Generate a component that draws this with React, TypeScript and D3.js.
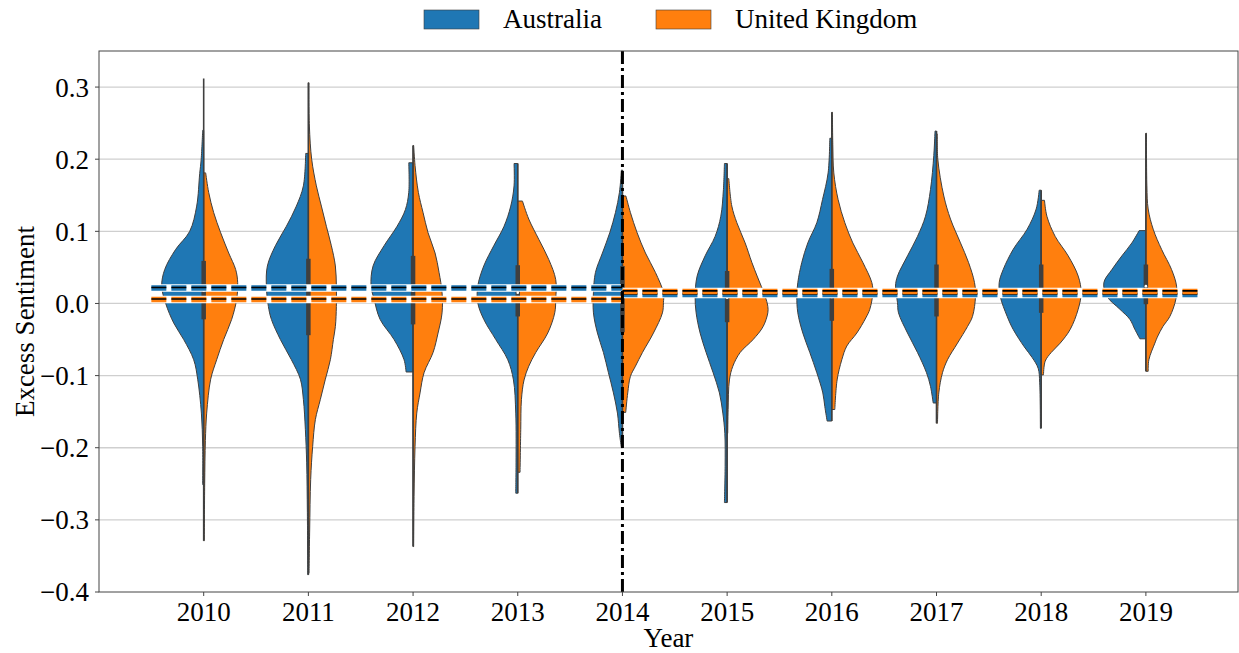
import React from "react";
import * as d3 from "d3";

type P = [number, number];

const years = ["2010", "2011", "2012", "2013", "2014", "2015", "2016", "2017", "2018", "2019"];
const seriesNames = ["Australia", "United Kingdom"];
const seriesColors = ["#1f77b4", "#ff7f0e"];

// [value, density] pairs, top to bottom (density in arbitrary units, max ~42)
const australiaDensity: P[][] = [
  [[0.24, 1], [0.2, 2.5], [0.18, 4], [0.135, 7], [0.1, 14], [0.075, 28], [0.047, 39], [0.024, 42], [0.0, 38], [-0.027, 30], [-0.05, 20], [-0.078, 10], [-0.105, 6], [-0.152, 2.3], [-0.198, 1], [-0.251, 1]],
  [[0.208, 2.7], [0.163, 5], [0.135, 12], [0.107, 22], [0.08, 33], [0.052, 41], [0.024, 42], [-0.004, 40], [-0.022, 37], [-0.05, 28], [-0.078, 17], [-0.105, 8], [-0.133, 5], [-0.175, 3], [-0.221, 1.7], [-0.29, 1], [-0.376, 0.6]],
  [[0.195, 4.3], [0.154, 4.3], [0.13, 7.7], [0.107, 16], [0.08, 29], [0.052, 40], [0.024, 42], [0.006, 39], [-0.022, 33], [-0.05, 19], [-0.078, 9], [-0.095, 7]],
  [[0.194, 3.7], [0.163, 3.7], [0.135, 7], [0.107, 13.7], [0.08, 24], [0.052, 34], [0.024, 40], [0.001, 40], [-0.022, 34], [-0.05, 22], [-0.078, 10], [-0.106, 4.3], [-0.152, 2], [-0.221, 1.7], [-0.263, 2]],
  [[0.185, 1], [0.154, 3], [0.126, 7], [0.098, 12.7], [0.07, 20], [0.043, 27], [0.015, 29], [-0.013, 29], [-0.041, 25], [-0.068, 19], [-0.096, 14], [-0.124, 9], [-0.152, 5], [-0.18, 3], [-0.2, 1]],
  [[0.194, 2.7], [0.158, 3.7], [0.121, 6.3], [0.093, 12], [0.066, 22], [0.038, 30], [0.01, 32], [-0.013, 31], [-0.041, 27], [-0.068, 21], [-0.096, 14], [-0.124, 7.7], [-0.152, 4.3], [-0.18, 2.3], [-0.226, 2], [-0.276, 2.7]],
  [[0.229, 2], [0.181, 3.7], [0.144, 9.3], [0.112, 15], [0.084, 24], [0.057, 30], [0.029, 34], [0.01, 35], [-0.013, 34], [-0.041, 29], [-0.068, 22], [-0.096, 15], [-0.124, 9], [-0.143, 7], [-0.163, 4.7]],
  [[0.239, 1.5], [0.205, 2.7], [0.158, 6], [0.121, 11], [0.093, 19], [0.066, 29], [0.038, 39], [0.024, 41], [0.001, 39], [-0.013, 38], [-0.041, 29], [-0.068, 19], [-0.096, 10], [-0.115, 6], [-0.138, 3.3]],
  [[0.157, 2], [0.131, 5], [0.103, 14], [0.075, 28], [0.047, 38], [0.029, 42], [0.01, 41], [-0.018, 34], [-0.036, 28], [-0.06, 17], [-0.075, 9], [-0.09, 3], [-0.11, 1.5], [-0.173, 0.8]],
  [[0.101, 6.7], [0.084, 14], [0.066, 24], [0.047, 34], [0.029, 42], [0.01, 39], [-0.008, 26], [-0.022, 16], [-0.036, 11], [-0.049, 6]],
];

const ukDensity: P[][] = [
  [[0.181, 2], [0.154, 5], [0.126, 10], [0.098, 17], [0.07, 25], [0.047, 32], [0.029, 34], [0.006, 33], [-0.022, 28], [-0.05, 20], [-0.078, 13], [-0.105, 7], [-0.152, 3], [-0.19, 1.7], [-0.25, 1], [-0.329, 0.6]],
  [[0.306, 0.6], [0.246, 1], [0.2, 3.3], [0.163, 8], [0.135, 13], [0.107, 18], [0.08, 23], [0.052, 27], [0.024, 28], [-0.004, 28], [-0.032, 27], [-0.05, 25], [-0.078, 22], [-0.105, 17], [-0.133, 12], [-0.161, 7], [-0.198, 4.3], [-0.244, 2.3], [-0.314, 1.3], [-0.374, 0.6]],
  [[0.219, 0.6], [0.191, 2], [0.154, 5.3], [0.126, 10], [0.098, 15], [0.07, 22], [0.043, 26], [0.015, 29], [-0.013, 29], [-0.041, 25], [-0.068, 20], [-0.096, 11], [-0.124, 7], [-0.152, 3.7], [-0.198, 2], [-0.268, 1], [-0.337, 0.6]],
  [[0.142, 4.7], [0.117, 11], [0.089, 21], [0.061, 31], [0.033, 38], [0.006, 38], [-0.013, 37], [-0.041, 30], [-0.068, 18], [-0.087, 11], [-0.106, 6.3], [-0.133, 3.7], [-0.175, 3], [-0.234, 2.3]],
  [[0.149, 3.5], [0.126, 8], [0.098, 14.7], [0.07, 23], [0.043, 33], [0.015, 41], [0.001, 41], [-0.013, 40], [-0.041, 31], [-0.068, 20], [-0.087, 13], [-0.101, 8], [-0.124, 5.3], [-0.151, 3.3]],
  [[0.173, 1.7], [0.135, 4.7], [0.112, 9.7], [0.084, 18], [0.057, 24.7], [0.038, 30], [0.01, 38], [-0.004, 40.7], [-0.013, 40.7], [-0.032, 36], [-0.05, 26], [-0.068, 13], [-0.087, 5.7], [-0.106, 2.3], [-0.147, 1], [-0.18, 0.6]],
  [[0.265, 0.6], [0.22, 1], [0.181, 2], [0.144, 6.3], [0.112, 13], [0.084, 21], [0.057, 31], [0.029, 40], [0.015, 41], [-0.008, 38], [-0.02, 34], [-0.041, 25], [-0.059, 15], [-0.078, 10], [-0.106, 5.3], [-0.147, 3]],
  [[0.235, 0.8], [0.2, 1.3], [0.149, 7.3], [0.117, 14], [0.084, 24], [0.057, 32], [0.029, 38], [0.01, 39], [-0.018, 36], [-0.032, 31], [-0.055, 21], [-0.078, 11], [-0.096, 6], [-0.124, 2.3], [-0.166, 1]],
  [[0.143, 3.3], [0.121, 5.7], [0.093, 14], [0.066, 27], [0.038, 37], [0.015, 40], [-0.008, 37], [-0.036, 29], [-0.055, 19], [-0.068, 10], [-0.08, 4], [-0.099, 2.3]],
  [[0.236, 0.6], [0.163, 1], [0.131, 2.3], [0.103, 7.3], [0.075, 15.7], [0.047, 25.7], [0.024, 30.7], [0.006, 30], [-0.018, 24], [-0.032, 17], [-0.045, 12], [-0.055, 9], [-0.078, 3], [-0.094, 2.3]],
];

const boxUpper = [0.059, 0.062, 0.066, 0.053, 0.052, 0.045, 0.048, 0.054, 0.054, 0.054];
const boxLower = [-0.022, -0.044, -0.029, -0.018, -0.04, -0.026, -0.024, -0.018, -0.013, -0.001];
const medians = [0.018, 0.019, 0.018, 0.015, 0.013, 0.008, 0.009, 0.019, 0.019, 0.024];
const whiskerHigh = [0.312, 0.306, 0.219, 0.194, 0.185, 0.194, 0.265, 0.239, 0.157, 0.236];
const whiskerLow = [-0.329, -0.376, -0.337, -0.263, -0.2, -0.276, -0.163, -0.166, -0.173, -0.094];

const yTicks = [-0.4, -0.3, -0.2, -0.1, 0.0, 0.1, 0.2, 0.3];
const periodStart = [-0.5, 4];
const periodEnd = [4, 9.5];
const australiaMean = [0.0215, 0.0125];
const ukMean = [0.0055, 0.0167];
const breakIndex = 4;

const FONT = "'Liberation Serif', 'Times New Roman', serif";

export default function App() {
  const W = 1239, H = 653;
  const left = 99, right = 1238, top = 51, bottom = 592;
  const x = d3.scaleLinear().domain([-1.0, 9.88]).range([left, right]);
  const y = d3.scaleLinear().domain([-0.4, 0.35]).range([bottom, top]);
  const step = x(1) - x(0);
  const dens = d3.scaleLinear().domain([0, 42]).range([0, (step * 42) / 104.7]);

  const half = (cx: number, sign: number, pts: P[]) =>
    d3
      .area<P>()
      .y((d) => y(d[0]))
      .x0(cx)
      .x1((d) => cx + sign * dens(d[1]))
      .curve(d3.curveCatmullRom.alpha(0.5))(pts) || "";

  const fmt = (v: number) => (v < 0 ? "\u2212" : "") + Math.abs(v).toFixed(1);

  const underlay = (vals: number[], key: string) =>
    vals.map((v, i) => (
      <line key={key + "w" + i} x1={x(periodStart[i])} x2={x(periodEnd[i])} y1={y(v)} y2={y(v)} stroke="white" strokeWidth={7.5} />
    ));

  const meanLines = (vals: number[], color: string, key: string) =>
    vals.map((v, i) => {
      const x1 = x(periodStart[i]);
      const x2 = x(periodEnd[i]);
      const yy = y(v);
      return (
        <g key={key + i}>
          <line x1={x1} x2={x2} y1={yy} y2={yy} stroke={color} strokeWidth={5.5} strokeDasharray="15 5" />
          <line x1={x1} x2={x2} y1={yy - 0.5} y2={yy - 0.5} stroke="black" strokeWidth={1.6} strokeDasharray="15 5" />
        </g>
      );
    });

  return (
    <svg width={W} height={H} style={{ position: "absolute", left: 0, top: 0, background: "white" }} fontFamily={FONT}>
      <rect x={0} y={0} width={W} height={H} fill="white" />
      {/* grid */}
      {yTicks.slice(1).map((t) => (
        <line key={"g" + t} x1={left} x2={right} y1={y(t)} y2={y(t)} stroke="#cfcfcf" strokeWidth={1.3} />
      ))}
      {/* violins */}
      {years.map((yr, i) => {
        const cx = x(i);
        return (
          <g key={"v" + yr}>
            <path d={half(cx, -1, australiaDensity[i])} fill={seriesColors[0]} stroke="#3f3f3f" strokeWidth={1} />
            <path d={half(cx, 1, ukDensity[i])} fill={seriesColors[1]} stroke="#3f3f3f" strokeWidth={1} />
            <line x1={cx} x2={cx} y1={y(whiskerHigh[i])} y2={y(whiskerLow[i])} stroke="#3f3f3f" strokeWidth={1.6} />
            <line x1={cx} x2={cx} y1={y(boxUpper[i])} y2={y(boxLower[i])} stroke="#3f3f3f" strokeWidth={4.5} />
            <circle cx={cx} cy={y(medians[i])} r={1.3} fill="white" />
          </g>
        );
      })}
      {/* mean lines */}
      {underlay(australiaMean, "a")}
      {underlay(ukMean, "u")}
      {meanLines(australiaMean, seriesColors[0], "a")}
      {meanLines(ukMean, seriesColors[1], "u")}
      {/* break line */}
      <line x1={x(breakIndex)} x2={x(breakIndex)} y1={top} y2={bottom} stroke="black" strokeWidth={3} strokeDasharray="13 4 3 4" />
      {/* frame */}
      <rect x={left} y={top} width={right - left} height={bottom - top} fill="none" stroke="#444" strokeWidth={1} />
      {/* y ticks */}
      {yTicks.map((t) => (
        <g key={"yt" + t}>
          <line x1={left - 4} x2={left} y1={y(t)} y2={y(t)} stroke="#444" strokeWidth={1} />
          <text x={left - 10} y={y(t)} dy="0.35em" textAnchor="end" fontSize={27}>
            {fmt(t)}
          </text>
        </g>
      ))}
      {/* x ticks */}
      {years.map((yr, i) => (
        <g key={"xt" + yr}>
          <line x1={x(i)} x2={x(i)} y1={bottom} y2={bottom + 4} stroke="#444" strokeWidth={1} />
          <text x={x(i)} y={621} textAnchor="middle" fontSize={27}>
            {yr}
          </text>
        </g>
      ))}
      <text x={(left + right) / 2} y={647} textAnchor="middle" fontSize={27}>
        Year
      </text>
      <text transform={`translate(34, ${(top + bottom) / 2}) rotate(-90)`} textAnchor="middle" fontSize={27}>
        Excess Sentiment
      </text>
      {/* legend */}
      {seriesNames.map((n, i) => {
        const lx = i === 0 ? 424 : 656;
        return (
          <g key={"l" + n}>
            <rect x={lx} y={10} width={55} height={19} fill={seriesColors[i]} stroke="#3f3f3f" strokeWidth={0.6} />
            <text x={lx + 79} y={28} fontSize={27}>
              {n}
            </text>
          </g>
        );
      })}
    </svg>
  );
}
